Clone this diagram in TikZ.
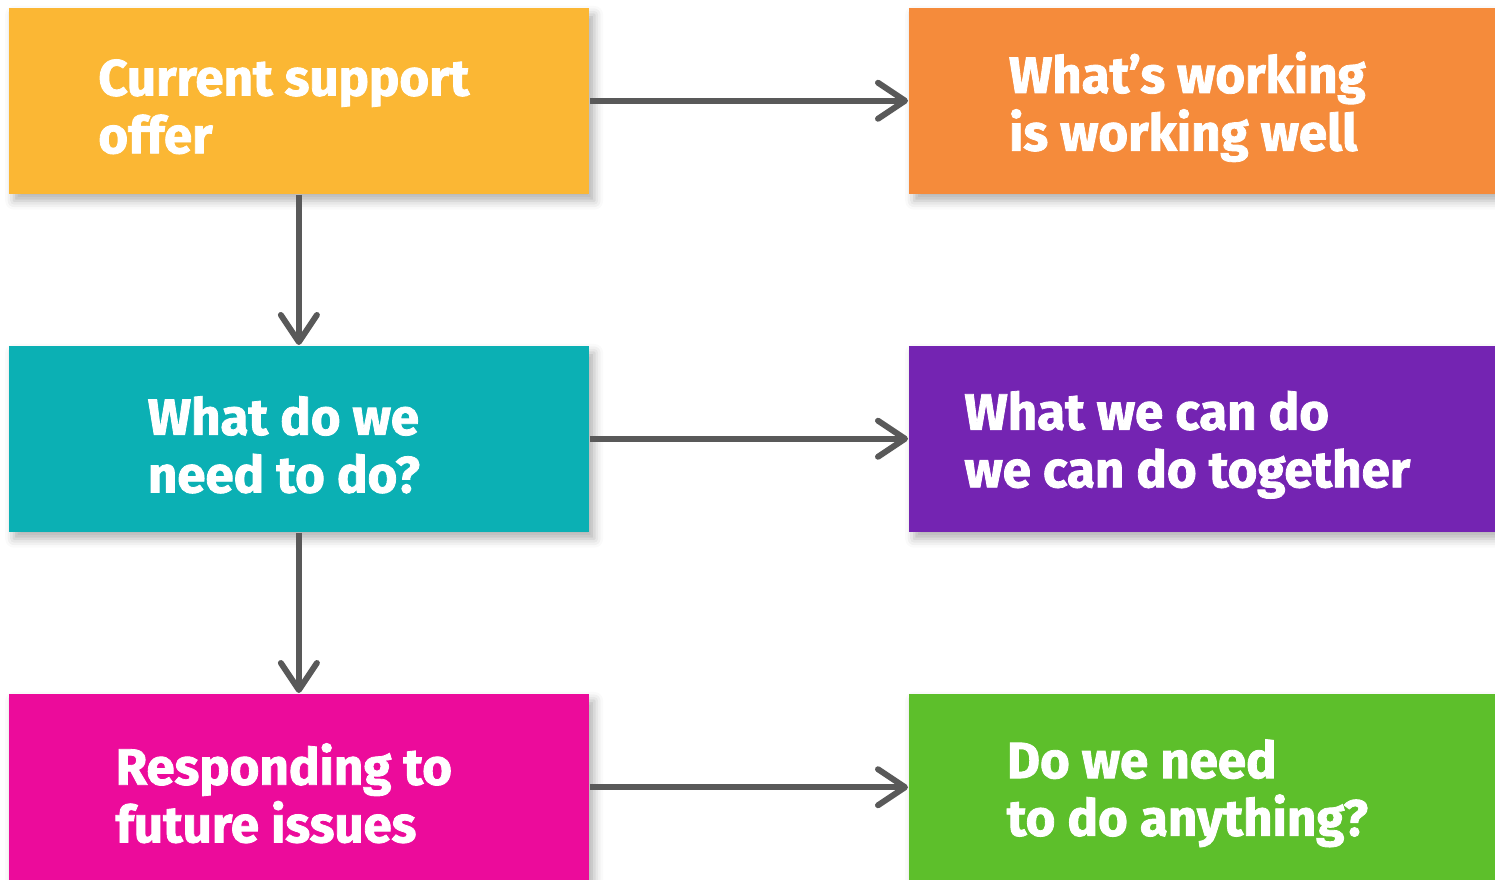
\documentclass[tikz,border=0pt]{standalone}
\usepackage{fontspec}
\newfontfamily\boxfont{Fira Sans}[BoldFeatures={FakeBold=1.6}]
\usetikzlibrary{arrows.meta,shadows.blur}
\definecolor{cYellow}{HTML}{FBB734}
\definecolor{cOrange}{HTML}{F58B3B}
\definecolor{cTeal}{HTML}{0BB0B4}
\definecolor{cPurple}{HTML}{7424B2}
\definecolor{cMagenta}{HTML}{EC0B9B}
\definecolor{cGreen}{HTML}{5DBF2B}
\definecolor{cArrow}{HTML}{595959}
\begin{document}
\begin{tikzpicture}[x=0.01cm,y=-0.01cm]
            \tikzset{
                stage/.style={rectangle, anchor=north west, minimum width=5.8cm, minimum height=1.86cm,
                    inner sep=0pt,
                    blur shadow={shadow xshift=1.5pt, shadow yshift=-2pt, shadow blur radius=2.5pt, shadow opacity=30}},
                outcome/.style={stage, minimum width=5.87cm},
                caption/.style={align=left, text=white, inner sep=0pt, xshift=-0.15cm, yshift=-0.06cm,
                    font=\boxfont\bfseries\fontsize{14.5}{16.4}\selectfont},
                flow/.style={draw=cArrow, line width=1.7pt,
                    -{Straight Barb[length=0.27cm, width=0.36cm, round]}},}
            \useasboundingbox (0,0) rectangle (1495,880);
            % left column
            \node [stage, fill=cYellow, label={[caption]center:{Current support\\offer}}] (current) at (8,7) {};
            \node [stage, fill=cTeal, label={[caption]center:{What do we\\need to do?}}] (needdo) at (8,345) {};
            \node [stage, fill=cMagenta, minimum height=1.87cm, label={[caption]center:{Responding to\\future issues}}] (future) at (8,693) {};
            % right column
            \node [outcome, fill=cOrange, label={[caption]center:{What’s working\\is working well}}] (working) at (908,7) {};
            \node [outcome, fill=cPurple, label={[caption]center:{What we can do\\we can do together}}] (together) at (908,345) {};
            \node [outcome, fill=cGreen, minimum height=1.87cm, label={[caption]center:{Do we need\\to do anything?}}] (anything) at (908,693) {};
            % arrows
            \draw [flow] (current.east) -- (working.west);
            \draw [flow] (needdo.east) -- (together.west);
            \draw [flow] (future.east) -- (anything.west);
            \draw [flow] (current.south) -- (needdo.north);
            \draw [flow] (needdo.south) -- (future.north);
        \end{tikzpicture}
\end{document}
